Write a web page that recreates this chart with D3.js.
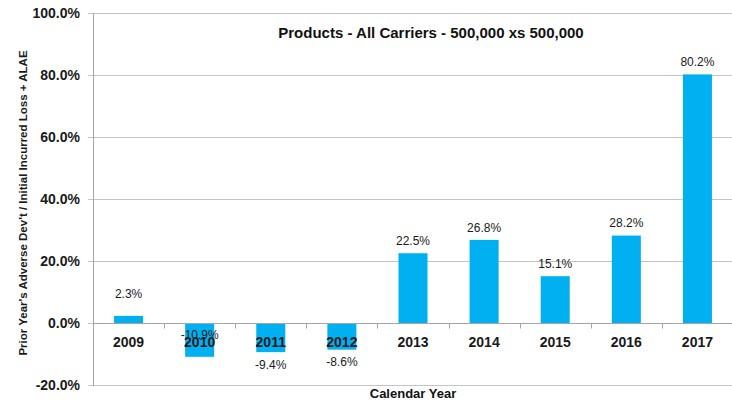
<!DOCTYPE html>
<html>
<head>
<meta charset="utf-8">
<script src="https://cdn.jsdelivr.net/npm/d3@7"></script>
<style>
  html, body { margin: 0; padding: 0; background: #fff; }
  svg { display: block; font-family: "Liberation Sans", Arial, sans-serif; }
</style>
</head>
<body>
<svg id="chart" width="732" height="404"></svg>
<script>
// Calendar years and the prior-year adverse development ratio for each
const years = ["2009", "2010", "2011", "2012", "2013", "2014", "2015", "2016", "2017"];
const ratios = [0.023, -0.109, -0.094, -0.086, 0.225, 0.268, 0.151, 0.282, 0.802];
const yTicks = [-0.2, 0, 0.2, 0.4, 0.6, 0.8, 1.0];

const chartTitle = "Products - All Carriers - 500,000 xs 500,000";
const xTitle = "Calendar Year";
const yTitle = "Prior Year's Adverse Dev't / Initial Incurred Loss + ALAE";

const svg = d3.select("#chart");
const plot = { left: 93, right: 733, top: 13, bottom: 385 };

const x = d3.scaleBand()
  .domain(years)
  .range([plot.left, plot.right])
  .paddingInner(0.592)
  .paddingOuter(0.296);

const y = d3.scaleLinear()
  .domain([-0.2, 1.0])
  .range([plot.bottom, plot.top]);

// percentage with one decimal and a plain hyphen for negatives
const fmt = d3.format(".1%");
const pct = d => fmt(d).replace("\u2212", "-");

// horizontal gridlines with short outward ticks on the value axis
svg.append("g")
  .selectAll("line")
  .data(yTicks)
  .join("line")
  .attr("x1", plot.left - 5)
  .attr("x2", plot.right)
  .attr("y1", d => Math.round(y(d)) + 0.5)
  .attr("y2", d => Math.round(y(d)) + 0.5)
  .attr("stroke", "#c4c4c4")
  .attr("stroke-width", 1);

// value axis line
svg.append("line")
  .attr("x1", plot.left + 0.5).attr("x2", plot.left + 0.5)
  .attr("y1", plot.top).attr("y2", plot.bottom + 1)
  .attr("stroke", "#a6a6a6");

// value axis labels
svg.append("g")
  .selectAll("text")
  .data(yTicks)
  .join("text")
  .attr("x", 80)
  .attr("y", d => y(d))
  .attr("dy", "0.35em")
  .attr("text-anchor", "end")
  .attr("font-size", 14)
  .attr("font-weight", "bold")
  .attr("fill", "#1a1a1a")
  .text(d => pct(d));

// bars
svg.append("g")
  .selectAll("rect")
  .data(years.map((yr, i) => ({ yr, v: ratios[i] })))
  .join("rect")
  .attr("x", d => x(d.yr))
  .attr("width", x.bandwidth())
  .attr("y", d => y(Math.max(0, d.v)))
  .attr("height", d => Math.abs(y(d.v) - y(0)))
  .attr("fill", "#00b0f0");

// category axis along zero, ticks between categories
const zeroY = Math.round(y(0)) + 0.5;
svg.append("line")
  .attr("x1", plot.left).attr("x2", plot.right)
  .attr("y1", zeroY).attr("y2", zeroY)
  .attr("stroke", "#a6a6a6");
svg.append("g")
  .selectAll("line")
  .data(years.slice(1))
  .join("line")
  .attr("x1", d => Math.round(x(d) - x.step() * x.paddingInner() / 2) + 0.5)
  .attr("x2", d => Math.round(x(d) - x.step() * x.paddingInner() / 2) + 0.5)
  .attr("y1", zeroY)
  .attr("y2", zeroY + 5)
  .attr("stroke", "#a6a6a6");

// category labels
svg.append("g")
  .selectAll("text")
  .data(years)
  .join("text")
  .attr("x", d => x(d) + x.bandwidth() / 2)
  .attr("y", 342)
  .attr("dy", "0.35em")
  .attr("text-anchor", "middle")
  .attr("font-size", 14)
  .attr("font-weight", "bold")
  .attr("fill", "#1a1a1a")
  .text(d => d);

// value labels, outside the bar end, with a few hand-placed ones
const labelNudge = { "2009": -10, "2010": -34 };
svg.append("g")
  .selectAll("text")
  .data(years.map((yr, i) => ({ yr, v: ratios[i] })))
  .join("text")
  .attr("x", d => x(d.yr) + x.bandwidth() / 2)
  .attr("y", d => y(d.v) + (d.v >= 0 ? -12.5 : 12.5) + (labelNudge[d.yr] || 0))
  .attr("dy", "0.35em")
  .attr("text-anchor", "middle")
  .attr("font-size", 12)
  .attr("fill", "#1a1a1a")
  .text(d => pct(d.v));

// titles
svg.append("text")
  .attr("x", 431)
  .attr("y", 33)
  .attr("dy", "0.35em")
  .attr("text-anchor", "middle")
  .attr("font-size", 15)
  .attr("font-weight", "bold")
  .attr("fill", "#111")
  .text(chartTitle);

svg.append("text")
  .attr("x", (plot.left + plot.right) / 2)
  .attr("y", 393)
  .attr("dy", "0.35em")
  .attr("text-anchor", "middle")
  .attr("font-size", 13)
  .attr("font-weight", "bold")
  .attr("fill", "#111")
  .text(xTitle);

svg.append("text")
  .attr("transform", "translate(23,203) rotate(-90)")
  .attr("dy", "0.35em")
  .attr("text-anchor", "middle")
  .attr("font-size", 11.5)
  .attr("font-weight", "bold")
  .attr("fill", "#1a1a1a")
  .text(yTitle);
</script>
</body>
</html>
